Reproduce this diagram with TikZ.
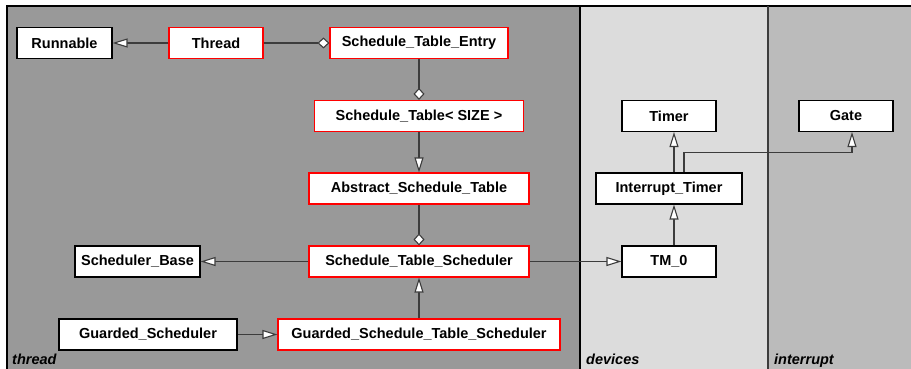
\documentclass[tikz,border=0pt]{standalone}
\usepackage{fontspec}
\setmainfont{Liberation Sans}
\usetikzlibrary{arrows.meta}

\definecolor{threadgray}{RGB}{153,153,153}
\definecolor{devgray}{RGB}{220,220,220}
\definecolor{intgray}{RGB}{187,187,187}
\definecolor{linegray}{RGB}{60,60,60}

\tikzset{
  cls/.style={draw=black, fill=white, line width=1.1pt, minimum height=31pt, inner sep=0pt,
    font=\fontsize{14.5}{17}\selectfont\bfseries},
  clsred/.style={cls, draw=red},
  inh/.style={draw=linegray, line width=1.1pt, -{Triangle[fill=white, length=15pt, width=9pt]}},
  agg/.style={draw=linegray, line width=1.1pt, -{Diamond[fill=white, length=12pt, width=11pt]}},
  pkglabel/.style={anchor=base west, inner sep=0pt, font=\fontsize{14.5}{17}\selectfont\bfseries\itshape},
}

\begin{document}
\begin{tikzpicture}[x=1pt, y=-1pt]
	\useasboundingbox (0,0) rectangle (911,369);
	
	% packages
	\fill[threadgray] (7,6) rectangle (580,369);
	\fill[devgray] (580,6) rectangle (768,369);
	\fill[intgray] (768,6) rectangle (911,369);
	\draw[line width=1.8pt] (7,369) -- (7,6) -- (911,6);
	\draw[line width=1.8pt] (580,6) -- (580,369);
	\draw[line width=1.8pt, draw=linegray] (768,6) -- (768,369);
	\node[pkglabel] (lthread) at (12,364) {thread};
	\node[pkglabel] (ldevices) at (586,364) {devices};
	\node[pkglabel] (linterrupt) at (774,364) {interrupt};
	
	% classes
	\node[cls, minimum width=95pt] (runnable) at (64.5,43) {Runnable};
	\node[clsred, minimum width=94pt] (thread) at (216,43) {Thread};
	\node[clsred, minimum width=178pt] (entry) at (419,43) {Schedule\_Table\_Entry};
	\node[clsred, minimum width=209pt] (table) at (419,116) {Schedule\_Table< SIZE >};
	\node[clsred, minimum width=220pt] (abstract) at (419,188.5) {Abstract\_Schedule\_Table};
	\node[clsred, minimum width=220pt] (sts) at (419,261.5) {Schedule\_Table\_Scheduler};
	\node[cls, minimum width=125pt] (base) at (137.5,261.5) {Scheduler\_Base};
	\node[cls, minimum width=178pt] (guarded) at (148,334.5) {Guarded\_Scheduler};
	\node[clsred, minimum width=282pt] (gsts) at (419,334.5) {Guarded\_Schedule\_Table\_Scheduler};
	\node[cls, minimum width=94pt] (tm) at (669,261.5) {TM\_0};
	\node[cls, minimum width=146pt] (itimer) at (669,188.5) {Interrupt\_Timer};
	\node[cls, minimum width=94pt] (timer) at (669,116) {Timer};
	\node[cls, minimum width=94pt] (gate) at (846,116) {Gate};
	
	% relations
	\draw[inh] (thread) -- (runnable);
	\draw[agg] (thread) -- (entry);
	\draw[agg] (entry) -- (table);
	\draw[inh] (table) -- (abstract);
	\draw[agg] (abstract) -- (sts);
	\draw[inh] (sts) -- (base);
	\draw[inh] (gsts) -- (sts);
	\draw[inh] (guarded) -- (gsts);
	\draw[inh] (sts) -- (tm);
	\draw[inh] ([xshift=5pt]tm.north) -- ([xshift=5pt]itimer.south);
	\draw[inh] ([xshift=5pt]itimer.north) -- ([xshift=5pt]timer.south);
	\draw[inh] ([xshift=15pt]itimer.north) -- ++(0,-20) -| ([xshift=6pt]gate.south);
\end{tikzpicture}
\end{document}
